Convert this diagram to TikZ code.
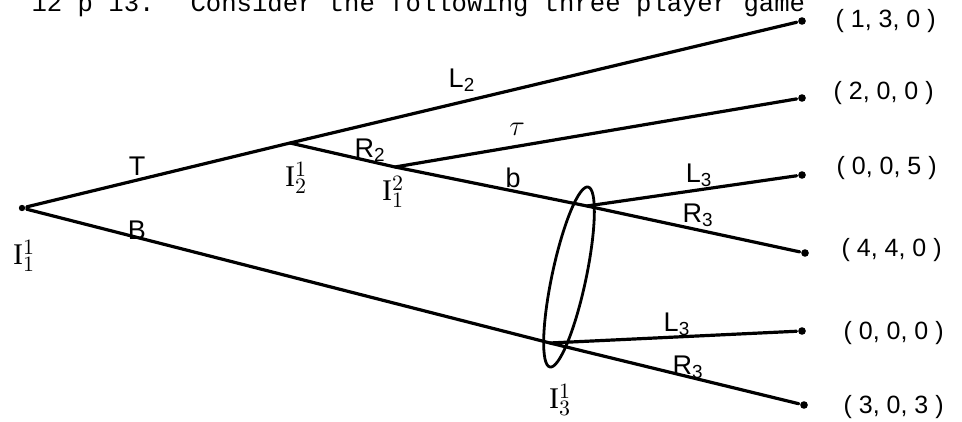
\documentclass[tikz,border=0pt]{standalone}
\usepackage{fontspec}
\setmainfont{Liberation Sans}
\setmonofont{Liberation Mono}
\newfontfamily\serifI{Liberation Serif}
\usetikzlibrary{shapes.geometric}
\begin{document}
\begin{tikzpicture}[x=0.5pt,y=-0.5pt,line width=1.6pt,line cap=round,line join=round,
  term/.style={circle,fill,inner sep=0pt,minimum size=3.8pt},
  root/.style={circle,fill,inner sep=0pt,minimum size=3.2pt},
  lab/.style={font=\fontsize{13.5}{15}\selectfont,inner sep=0pt},
  ilab/.style={font=\fontsize{15}{17}\selectfont\serifI,inner sep=0pt},
  pay/.style={font=\fontsize{12.5}{14}\selectfont,anchor=west,inner sep=0pt},
  title/.style={font=\fontsize{12.8}{15}\selectfont\ttfamily,anchor=base west,inner sep=0pt},
  info/.style={draw,ellipse,line width=1.4pt,minimum width=17pt,minimum height=92pt,inner sep=0pt,rotate=-12}]
\useasboundingbox (0,0) rectangle (962,422);

% title (cut at the top edge)
\node[title] (pg) at (30,12) {12 p 13.};
\node[title] (ttl) at (189,12) {Consider the following three player game};

% decision points
\node[root] (r) at (22,208) {};
\coordinate (i2) at (290,143);
\coordinate (i12) at (395,167);
\coordinate (a) at (587,206);
\coordinate (b) at (550,343);

% terminals
\node[term] (t1) at (802,21) {};
\node[term] (t2) at (802,98) {};
\node[term] (t3) at (802,175) {};
\node[term] (t4) at (805,253) {};
\node[term] (t5) at (802,331) {};
\node[term] (t6) at (804,405) {};

% branches
\draw (r) -- (i2) -- (t1);
\draw (i2) -- (i12) -- (a) -- (t4);
\draw (i12) -- (t2);
\draw (a) -- (t3);
\draw (r) -- (b) -- (t6);
\draw (b) -- (t5);

% information set
\node[info] (is) at (569,277) {};

% branch labels
\node[lab] (lT) at (137,166) {T};
\node[lab] (lB) at (137,230) {B};
\node[lab] (lL2) at (462,80) {L\textsubscript{2}};
\node[lab] (lR2) at (370,150) {R\textsubscript{2}};
\node[lab] (ltau) at (517,129) {$\tau$};
\node[lab] (lb) at (513,178) {b};
\node[lab] (lL3a) at (699,175) {L\textsubscript{3}};
\node[lab] (lR3a) at (698,215) {R\textsubscript{3}};
\node[lab] (lL3b) at (677,324) {L\textsubscript{3}};
\node[lab] (lR3b) at (688,367) {R\textsubscript{3}};

% information set labels
\node[ilab] (n1) at (24,256) {I$^1_1$};
\node[ilab] (n2) at (296,178) {I$^1_2$};
\node[ilab] (n3) at (393,192) {I$^2_1$};
\node[ilab] (n4) at (560,400) {I$^1_3$};

% payoffs
\node[pay] (p1) at (834,21) {( 1, 3, 0 )};
\node[pay] (p2) at (832,93) {( 2, 0, 0 )};
\node[pay] (p3) at (835,168) {( 0, 0, 5 )};
\node[pay] (p4) at (840,250) {( 4, 4, 0 )};
\node[pay] (p5) at (842,333) {( 0, 0, 0 )};
\node[pay] (p6) at (842,407) {( 3, 0, 3 )};
\end{tikzpicture}
\end{document}
